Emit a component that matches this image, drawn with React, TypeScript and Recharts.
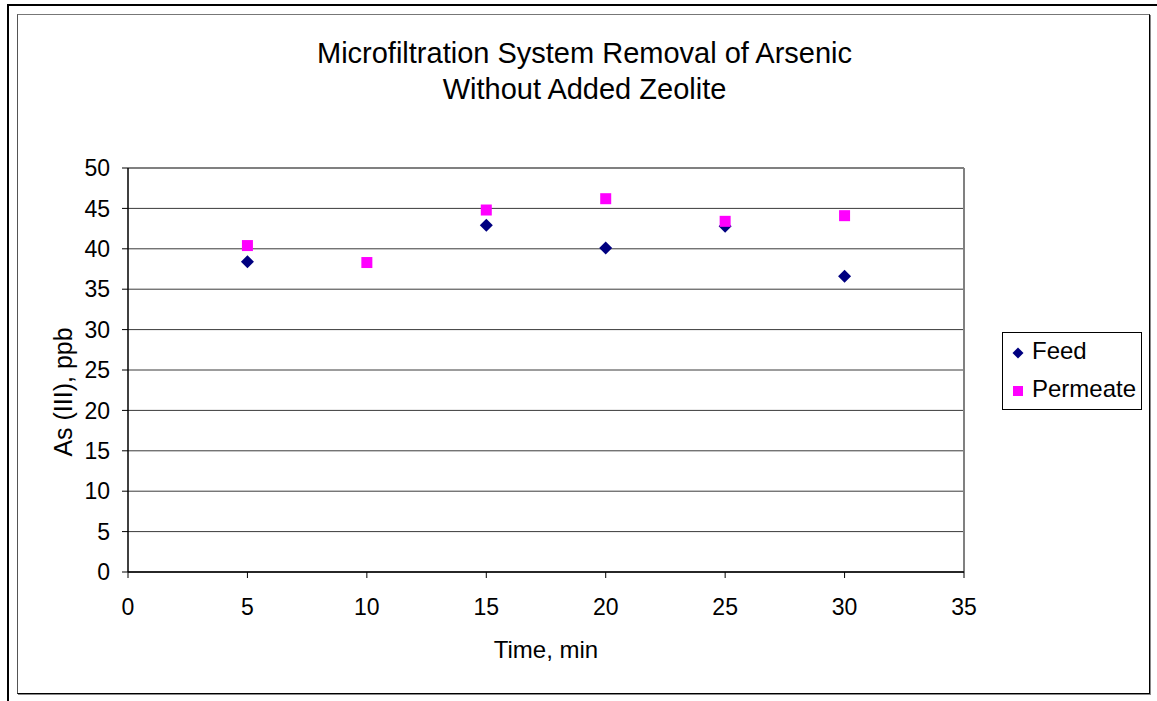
import React from "react";
import {
  ScatterChart, Scatter, XAxis, YAxis, CartesianGrid, ReferenceLine, Label,
} from "recharts";

// Arsenic concentration samples, As(III) ppb by time in minutes
const feedTimes = [5, 15, 20, 25, 30];
const feedValues = [38.4, 42.9, 40.1, 42.8, 36.6];
const permeateTimes = [5, 10, 15, 20, 25, 30];
const permeateValues = [40.4, 38.3, 44.8, 46.2, 43.4, 44.1];

const xTicks = [0, 5, 10, 15, 20, 25, 30, 35];
const yTicks = [0, 5, 10, 15, 20, 25, 30, 35, 40, 45, 50];

const FEED_COLOR = "#000080";
const PERMEATE_COLOR = "#FF00FF";
const FONT = "'Liberation Sans', Arial, sans-serif";

const feed = feedTimes.map((t, i) => ({ time: t, value: feedValues[i] }));
const permeate = permeateTimes.map((t, i) => ({ time: t, value: permeateValues[i] }));

const Diamond = (props: any) => {
  const { cx, cy } = props;
  const r = 6.5;
  return (
    <polygon
      points={`${cx},${cy - r} ${cx + r},${cy} ${cx},${cy + r} ${cx - r},${cy}`}
      fill={FEED_COLOR}
    />
  );
};

const Square = (props: any) => {
  const { cx, cy } = props;
  const h = 5.5;
  return <rect x={cx - h} y={cy - h} width={h * 2} height={h * 2} fill={PERMEATE_COLOR} />;
};

// legend box sits to the right of the plot, outside the chart layout
const LegendBox = () => (
  <div
    style={{
      position: "absolute", left: 1002, top: 332, width: 140, height: 78,
      border: "1px solid #000", boxSizing: "border-box", background: "#fff",
      fontFamily: FONT, fontSize: 24, lineHeight: "24px", color: "#000",
    }}
  >
    <svg width={14} height={14} style={{ position: "absolute", left: 8, top: 13 }}>
      <polygon points="7,1.5 12.5,7 7,12.5 1.5,7" fill={FEED_COLOR} />
    </svg>
    <div style={{ position: "absolute", left: 29, top: 6 }}>Feed</div>
    <svg width={14} height={14} style={{ position: "absolute", left: 8, top: 51 }}>
      <rect x={2} y={2} width={10} height={10} fill={PERMEATE_COLOR} />
    </svg>
    <div style={{ position: "absolute", left: 29, top: 44 }}>Permeate</div>
  </div>
);

export default function App() {
  return (
    <div style={{ position: "absolute", left: 0, top: 0, width: 1157, height: 701, background: "#fff" }}>
      {/* outer frame, top and left edges */}
      <div
        style={{
          position: "absolute", left: 7, top: 4, width: 1150, height: 697,
          borderTop: "2px solid #000", borderLeft: "2px solid #000", boxSizing: "border-box",
        }}
      />
      {/* chart area frame */}
      <div
        style={{
          position: "absolute", left: 17, top: 14, width: 1133, height: 680,
          border: "1px solid #000", borderTopColor: "#777", borderLeftColor: "#555",
          boxShadow: "1px 1px 0 #888", boxSizing: "border-box",
        }}
      />
      <div
        style={{
          position: "absolute", left: 0, top: 35, width: 1169, textAlign: "center",
          fontFamily: FONT, fontSize: 29, lineHeight: "36px", color: "#000",
        }}
      >
        Microfiltration System Removal of Arsenic
        <br />
        Without Added Zeolite
      </div>
      <div style={{ position: "absolute", left: 0, top: 0 }}>
        <ScatterChart
          width={1157}
          height={701}
          margin={{ top: 168, right: 193, bottom: 39, left: 68 }}
        >
          <CartesianGrid horizontal vertical={false} stroke="#3a3a3a" strokeWidth={1} />
          <XAxis
            type="number"
            dataKey="time"
            domain={[0, 35]}
            ticks={xTicks}
            interval={0}
            height={90}
            tickSize={6}
            tickMargin={21}
            axisLine={{ stroke: "#000", strokeWidth: 1.5 }}
            tickLine={{ stroke: "#000" }}
            tick={{ fontSize: 23, fill: "#000", fontFamily: FONT }}
          >
            <Label
              value="Time, min"
              position="insideBottom"
              offset={4}
              style={{ fontSize: 24, fill: "#000", fontFamily: FONT }}
            />
          </XAxis>
          <YAxis
            type="number"
            dataKey="value"
            domain={[0, 50]}
            ticks={yTicks}
            interval={0}
            width={60}
            tickSize={6}
            tickMargin={12}
            axisLine={{ stroke: "#000", strokeWidth: 1.5 }}
            tickLine={{ stroke: "#000" }}
            tick={{ fontSize: 23, fill: "#000", fontFamily: FONT }}
          >
            <Label
              value="As (III), ppb"
              angle={-90}
              position="insideLeft"
              offset={0}
              dx={-5}
              dy={22}
              style={{ fontSize: 25, fill: "#000", fontFamily: FONT, textAnchor: "middle" }}
            />
          </YAxis>
          <ReferenceLine y={50} stroke="#808080" strokeWidth={2} />
          <ReferenceLine x={35} stroke="#808080" strokeWidth={2} />
          <Scatter name="Feed" data={feed} shape={<Diamond />} isAnimationActive={false} />
          <Scatter name="Permeate" data={permeate} shape={<Square />} isAnimationActive={false} />
        </ScatterChart>
      </div>
      <LegendBox />
    </div>
  );
}
